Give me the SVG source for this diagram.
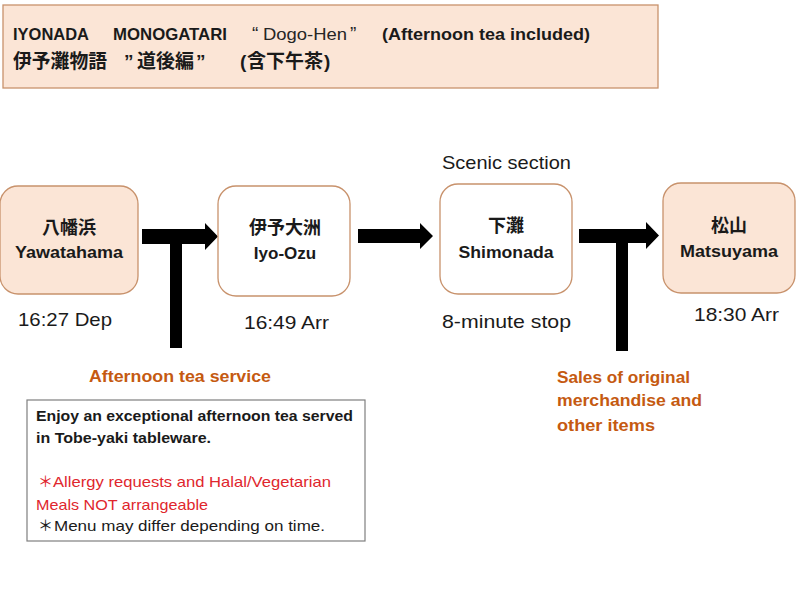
<svg xmlns="http://www.w3.org/2000/svg" width="800" height="600" viewBox="0 0 800 600">
<style>
.peach{fill:#fbe5d6;stroke:#c8926c;stroke-width:1.3}
.white{fill:#ffffff;stroke:#c8926c;stroke-width:1.3}
.en{font-family:"Liberation Sans",Arial,sans-serif}
.jp{font-family:"Noto Sans CJK JP","Liberation Sans",sans-serif}
.b{font-weight:bold}
.n{font-weight:normal}
.dark{fill:#1a1a1a}
.org{fill:#c55a11;font-weight:bold}
.red{fill:#e0262d}
.arrow{fill:#000000}
</style>
<rect width="800" height="600" fill="#ffffff"/>
<g id="title">
<rect x="3" y="5" width="655" height="83" class="peach"/>
<text class="en b dark" font-size="16.5" y="40"><tspan x="13" textLength="76" lengthAdjust="spacingAndGlyphs">IYONADA</tspan><tspan x="113" textLength="114" lengthAdjust="spacingAndGlyphs">MONOGATARI</tspan><tspan x="252" class="n" fill="#262626" font-size="19">“</tspan><tspan x="263" class="n" fill="#262626" textLength="84" lengthAdjust="spacingAndGlyphs">Dogo-Hen</tspan><tspan x="350" class="n" fill="#262626" font-size="19">”</tspan><tspan x="382" textLength="208" lengthAdjust="spacingAndGlyphs">(Afternoon tea included)</tspan></text>
<text class="jp b dark" font-size="19" y="68"><tspan x="13" textLength="94" lengthAdjust="spacingAndGlyphs">伊予灘物語</tspan><tspan x="124" class="en">”</tspan><tspan x="137">道後編</tspan><tspan x="196" class="en">”</tspan><tspan x="240" class="en">(</tspan><tspan x="247">含下午茶</tspan><tspan x="324" class="en">)</tspan></text>
</g>
<g id="connectors">
<path class="arrow" d="M142,229 H205 V223 L218,236.5 L205,250 V244 H182 V348 H170 V244 H142 Z"/>
<path class="arrow" d="M358,229 H420 V223 L433,236 L420,249 V243 H358 Z"/>
<path class="arrow" d="M579,229 H646 V222 L659,235.5 L646,249 V243 H628 V351 H616 V243 H579 Z"/>
</g>
<g id="node-yawatahama">
<rect x="0" y="186" width="138" height="108" rx="18" class="peach"/>
<text class="jp b dark" font-size="18" x="69" y="234" text-anchor="middle">八幡浜</text>
<text class="en b dark" font-size="17" x="69" y="258" text-anchor="middle" textLength="108" lengthAdjust="spacingAndGlyphs">Yawatahama</text>
</g>
<g id="node-iyoozu">
<rect x="218" y="186" width="132" height="110" rx="18" class="white"/>
<text class="jp b dark" font-size="18" x="285" y="234" text-anchor="middle">伊予大洲</text>
<text class="en b dark" font-size="17" x="285" y="259" text-anchor="middle">Iyo-Ozu</text>
</g>
<g id="node-shimonada">
<rect x="440" y="184" width="132" height="110" rx="18" class="white"/>
<text class="jp b dark" font-size="18" x="506" y="232" text-anchor="middle">下灘</text>
<text class="en b dark" font-size="17" x="506" y="258" text-anchor="middle" textLength="95" lengthAdjust="spacingAndGlyphs">Shimonada</text>
</g>
<g id="node-matsuyama">
<rect x="663" y="183" width="132" height="110" rx="18" class="peach"/>
<text class="jp b dark" font-size="18" x="729" y="232" text-anchor="middle">松山</text>
<text class="en b dark" font-size="17" x="729" y="257" text-anchor="middle" textLength="98" lengthAdjust="spacingAndGlyphs">Matsuyama</text>
</g>
<g id="labels">
<text class="en dark" font-size="19" x="18" y="326" textLength="94" lengthAdjust="spacingAndGlyphs">16:27 Dep</text>
<text class="en dark" font-size="19" x="244" y="329" textLength="85" lengthAdjust="spacingAndGlyphs">16:49 Arr</text>
<text class="en dark" font-size="19" x="442" y="169" textLength="129" lengthAdjust="spacingAndGlyphs">Scenic section</text>
<text class="en dark" font-size="19" x="442" y="328" textLength="129" lengthAdjust="spacingAndGlyphs">8-minute stop</text>
<text class="en dark" font-size="19" x="694" y="321" textLength="85" lengthAdjust="spacingAndGlyphs">18:30 Arr</text>
<text class="en org" font-size="17" x="89" y="382" textLength="182" lengthAdjust="spacingAndGlyphs">Afternoon tea service</text>
<text class="en org" font-size="17" x="557" y="383" textLength="133" lengthAdjust="spacingAndGlyphs">Sales of original</text>
<text class="en org" font-size="17" x="557" y="406" textLength="145" lengthAdjust="spacingAndGlyphs">merchandise and</text>
<text class="en org" font-size="17" x="557" y="431" textLength="98" lengthAdjust="spacingAndGlyphs">other items</text>
</g>
<g id="note">
<rect x="27" y="400" width="338" height="141" fill="#ffffff" stroke="#7f7f7f" stroke-width="1.2"/>
<text class="en b dark" font-size="14.5" x="36" y="421" textLength="317" lengthAdjust="spacingAndGlyphs">Enjoy an exceptional afternoon tea served</text>
<text class="en b dark" font-size="14.5" x="36" y="443" textLength="175" lengthAdjust="spacingAndGlyphs">in Tobe-yaki tableware.</text>
<text class="en red" font-size="15" y="487"><tspan x="38" class="jp">＊</tspan><tspan x="53" textLength="278" lengthAdjust="spacingAndGlyphs">Allergy requests and Halal/Vegetarian</tspan></text>
<text class="en red" font-size="15" x="36" y="510" textLength="172" lengthAdjust="spacingAndGlyphs">Meals NOT arrangeable</text>
<text class="en dark" font-size="15" y="531"><tspan x="38" class="jp">＊</tspan><tspan x="54" textLength="271" lengthAdjust="spacingAndGlyphs">Menu may differ depending on time.</tspan></text>
</g>
</svg>
